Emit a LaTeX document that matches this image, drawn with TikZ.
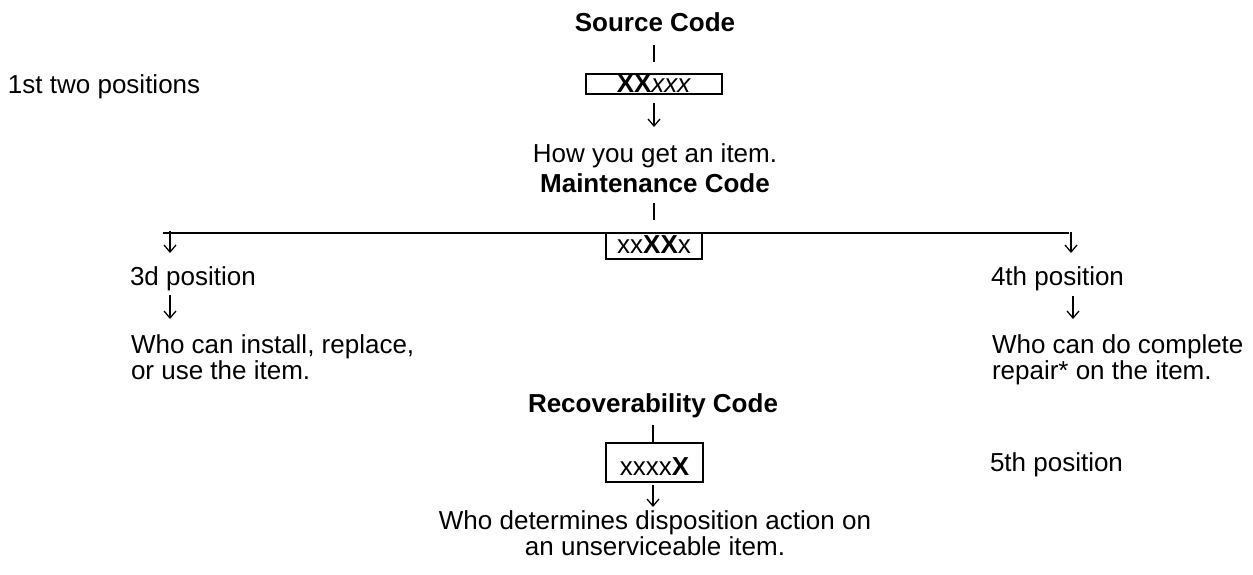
\documentclass[tikz,border=0pt]{standalone}
\usepackage{fontspec}
\setmainfont{Liberation Sans}
\usetikzlibrary{arrows.meta}
\begin{document}
\begin{tikzpicture}[x=1pt,y=-1pt,
  every node/.style={inner sep=0pt, outer sep=0pt, font=\fontsize{26}{27}\selectfont},
  txt/.style={anchor=base},
  txtl/.style={anchor=base west},
  hdr/.style={anchor=base, font=\fontsize{26}{27}\selectfont\bfseries},
  codebox/.style={draw, line width=2.3pt, inner sep=0pt, fill=white},
  arr/.style={line width=1.3pt, -{Straight Barb[length=7pt,width=12pt,line width=1.3pt]}},
  bar/.style={line width=2.4pt},
  hline/.style={line width=2.2pt}]
\useasboundingbox (0,0) rectangle (1253,575);

% Source code
\node[hdr] (src) at (655,32) {Source Code};
\coordinate (b1t) at (654,45);
\coordinate (b1b) at (654,62);
\draw[bar] (b1t) -- (b1b);
\node[codebox, minimum width=136pt, minimum height=20pt, text height=18pt, text depth=0pt] (box1) at (654,84) {\textbf{XX}\textit{xxx}};
\node[txtl] (pos12) at (8,94) {1st two positions};
\coordinate (a1s) at (654,103);
\coordinate (a1e) at (654,127);
\draw[arr] (a1s) -- (a1e);
\node[txt] (how) at (655,162) {How you get an item.};

% Maintenance code
\node[hdr] (maint) at (655,192) {Maintenance Code};
\coordinate (b2t) at (654,203);
\coordinate (b2b) at (654,220);
\draw[bar] (b2t) -- (b2b);
\coordinate (hl) at (163,233);
\coordinate (hr) at (1069,233);
\draw[hline] (hl) -- (hr);
\node[codebox, minimum width=96pt, minimum height=26pt, text height=18.6pt, text depth=4.6pt] (box2) at (654,246) {xx\textbf{XX}x};

\coordinate (la1s) at (170,231);
\coordinate (la1e) at (170,253);
\draw[arr] (la1s) -- (la1e);
\coordinate (ra1s) at (1071,232);
\coordinate (ra1e) at (1071,253);
\draw[arr] (ra1s) -- (ra1e);

\node[txtl] (p3) at (130,285) {3d position};
\node[txtl] (p4) at (991,285) {4th position};

\coordinate (la2s) at (170,295);
\coordinate (la2e) at (170,319);
\draw[arr] (la2s) -- (la2e);
\coordinate (ra2s) at (1073,296);
\coordinate (ra2e) at (1073,319);
\draw[arr] (ra2s) -- (ra2e);

\node[txtl] (w3a) at (131,353) {Who can install, replace,};
\node[txtl] (w3b) at (131,379) {or use the item.};
\node[txtl] (w4a) at (992,353) {Who can do complete};
\node[txtl] (w4b) at (992,379) {repair* on the item.};

% Recoverability code
\node[hdr] (rec) at (653,412) {Recoverability Code};
\coordinate (b3t) at (653,425);
\coordinate (b3b) at (653,442);
\draw[bar] (b3t) -- (b3b);
\node[codebox, minimum width=97pt, minimum height=39pt, text height=25pt, text depth=0pt] (box3) at (654.5,462.5) {xxxx\textbf{X}};
\node[txtl] (p5) at (990,471) {5th position};
\coordinate (a3s) at (653,485);
\coordinate (a3e) at (653,507);
\draw[arr] (a3s) -- (a3e);
\node[txt] (wd1) at (655,529) {Who determines disposition action on};
\node[txt] (wd2) at (655,555) {an unserviceable item.};
\end{tikzpicture}
\end{document}
